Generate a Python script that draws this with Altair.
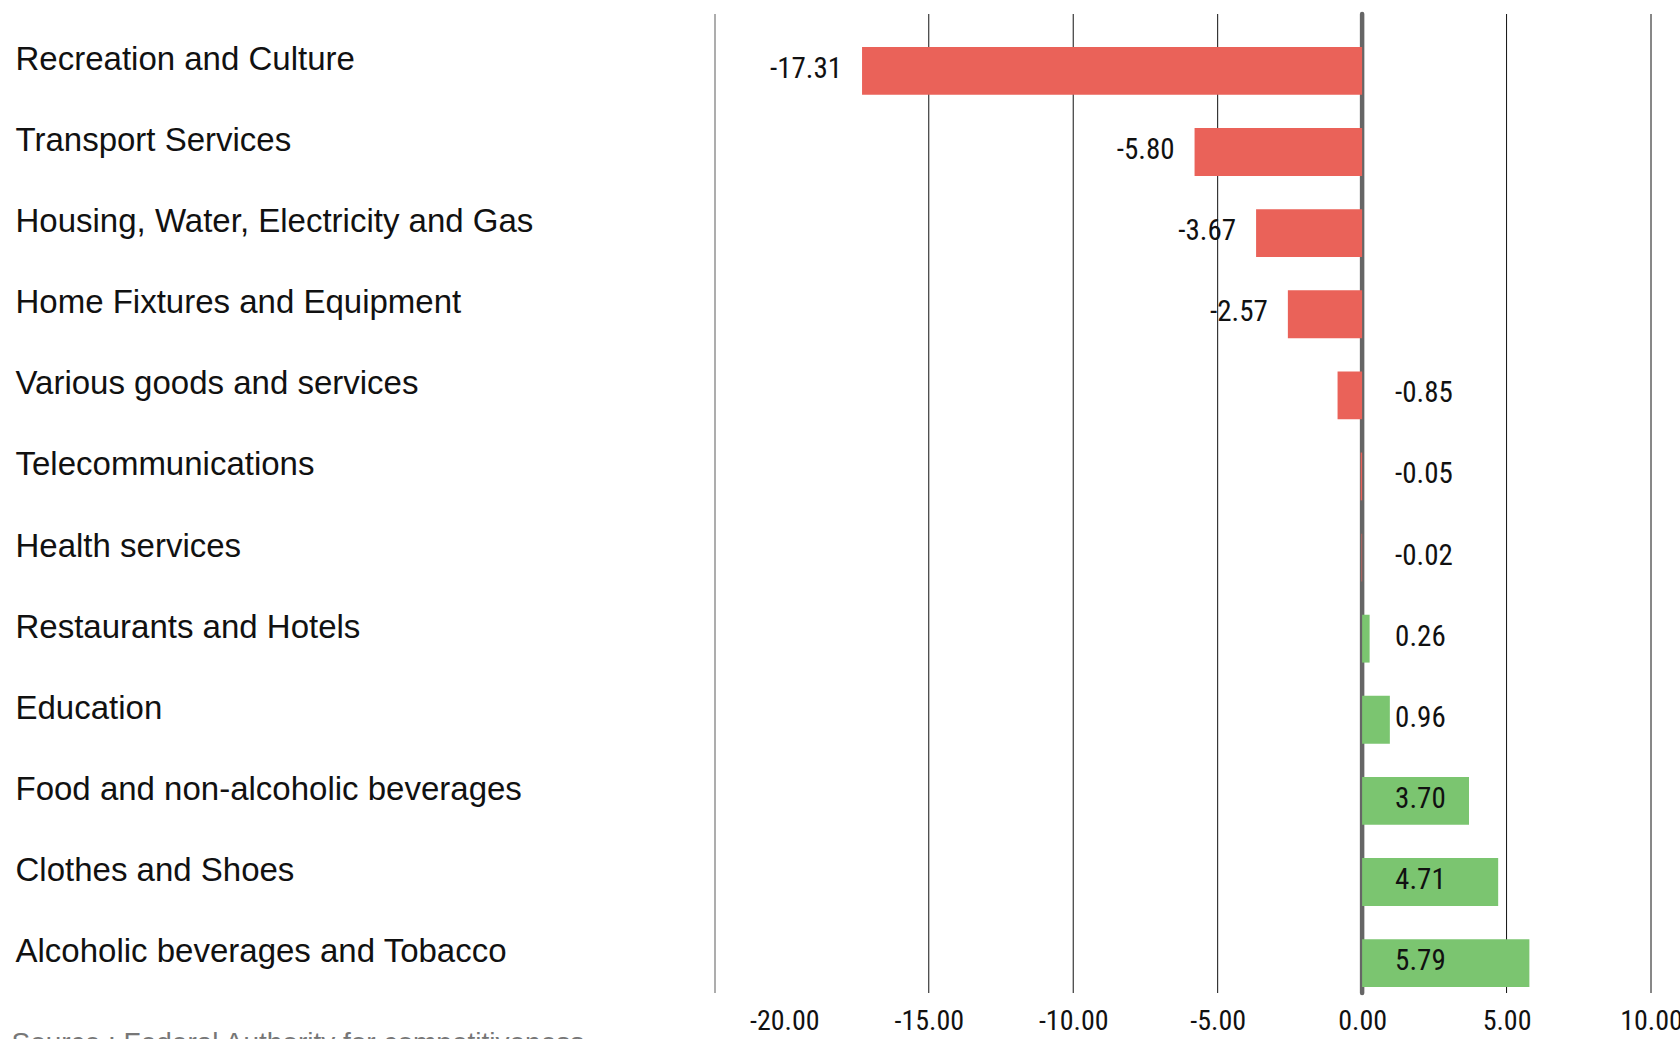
import altair as alt
import pandas as pd

categories = [
    "Recreation and Culture",
    "Transport Services",
    "Housing, Water, Electricity and Gas",
    "Home Fixtures and Equipment",
    "Various goods and services",
    "Telecommunications",
    "Health services",
    "Restaurants and Hotels",
    "Education",
    "Food and non-alcoholic beverages",
    "Clothes and Shoes",
    "Alcoholic beverages and Tobacco",
]
values = [-17.31, -5.80, -3.67, -2.57, -0.85, -0.05, -0.02, 0.26, 0.96, 3.70, 4.71, 5.79]
value_labels = ["-17.31", "-5.80", "-3.67", "-2.57", "-0.85", "-0.05", "-0.02",
                "0.26", "0.96", "3.70", "4.71", "5.79"]
x_domain = [-22.4, 10]
tick_values = [-20, -15, -10, -5, 0, 5, 10]
grid_values = [-15, -10, -5, 5, 10]
source_text = "Source : Federal Authority for competitiveness"

RED = "#EA6259"
GREEN = "#7BC570"
NARROW = ("Liberation Sans Narrow, Roboto Condensed, Noto Sans Condensed, "
          "Open Sans Condensed, Arial Narrow, DejaVu Sans Condensed, sans-serif")
SANS = "Liberation Sans, Arial, sans-serif"

df = pd.DataFrame({"category": categories, "value": values, "label": value_labels})
df_grid = pd.DataFrame({"g": grid_values})
df_zero = pd.DataFrame({"z": [0]})
df_edge = pd.DataFrame({"e": [x_domain[0]]})

xscale = alt.Scale(domain=x_domain, nice=False, zero=False)
yscale = alt.Scale(domain=categories, range=[33, 973], paddingInner=0.41, paddingOuter=0)

x_axis = alt.Axis(
    values=tick_values, grid=False, domain=False, ticks=False,
    labelExpr="replace(format(datum.value, '.2f'), '\u2212', '-')",
    labelFont=NARROW, labelFontSize=28, labelColor="#111", labelPadding=14,
    labelFlush=False, labelOverlap=False,
    title=source_text, titleX=-704, titleY=36, titleAlign="left", titleBaseline="top",
    titleAnchor="start", titleFont=SANS, titleFontSize=28, titleFontWeight="normal",
    titleColor="#777",
)
y_axis = alt.Axis(
    title=None, ticks=False, domain=False,
    labelAlign="left", labelPadding=700, labelLimit=690, labelFont=SANS,
    labelFontSize=33, labelColor="#111", labelOffset=-11, labelBaseline="middle",
)

grid = alt.Chart(df_grid).mark_rule(color="#111", strokeWidth=1).encode(
    x=alt.X("g:Q", scale=xscale, axis=x_axis)
)

edge = alt.Chart(df_edge).mark_rule(color="#8a8a8a", strokeWidth=1.4).encode(
    x=alt.X("e:Q", scale=xscale)
)

zero = alt.Chart(df_zero).mark_rule(color="#666", strokeWidth=4.5, strokeCap="round").encode(
    x=alt.X("z:Q", scale=xscale)
)

bars = alt.Chart(df).mark_bar().encode(
    x=alt.X("value:Q", scale=xscale),
    y=alt.Y("category:N", sort=categories, scale=yscale, axis=y_axis),
    color=alt.condition(alt.datum.value < 0, alt.value(RED), alt.value(GREEN)),
)

lab_big = alt.Chart(df).transform_filter(alt.datum.value < -1).mark_text(
    align="right", baseline="middle", dx=-20, dy=-2, font=NARROW, fontSize=29, color="#111"
).encode(
    x=alt.X("value:Q", scale=xscale),
    y=alt.Y("category:N", sort=categories, scale=yscale),
    text="label:N",
)

lab_small = alt.Chart(df).transform_filter(alt.datum.value >= -1).transform_calculate(
    anchor="0"
).mark_text(
    align="left", baseline="middle", dx=33, dy=-2, font=NARROW, fontSize=29, color="#111"
).encode(
    x=alt.X("anchor:Q", scale=xscale),
    y=alt.Y("category:N", sort=categories, scale=yscale),
    text="label:N",
)

chart = alt.layer(grid, edge, zero, bars, lab_big, lab_small).properties(
    width=936, height=979,
    autosize=alt.AutoSizeParams(type="none"),
    padding={"left": 715, "top": 14, "right": 29, "bottom": 60},
    background="white",
).configure_view(stroke=None)

chart.save("out.html", embed_options={"renderer": "svg", "actions": False})
